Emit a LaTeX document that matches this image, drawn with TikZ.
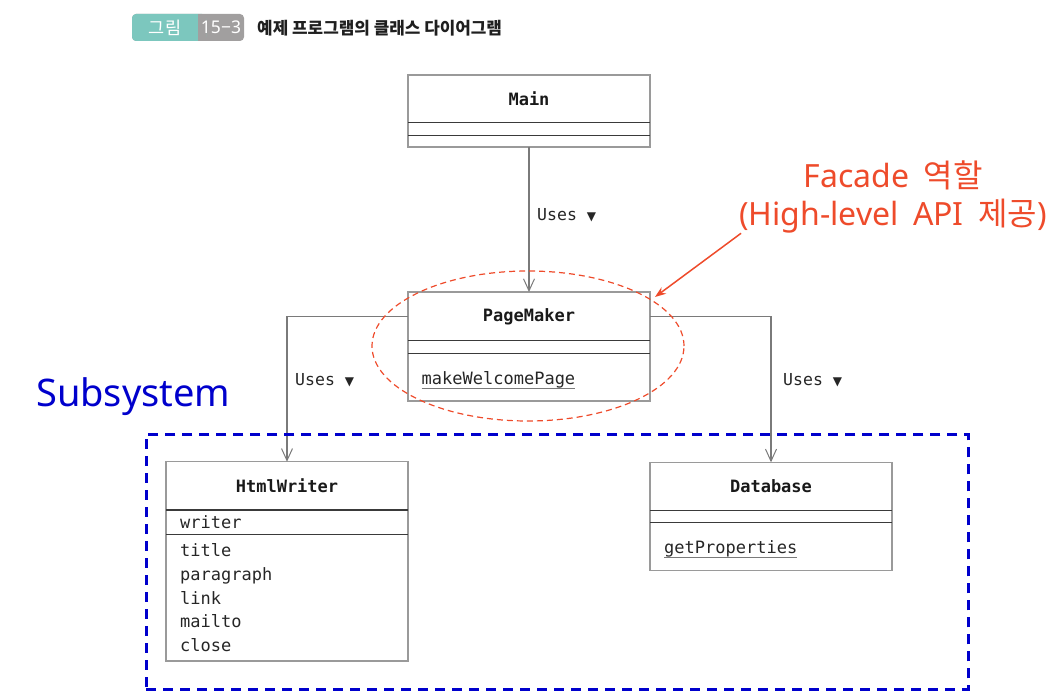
\documentclass[tikz,border=0pt]{standalone}
\usepackage{fontspec}
\setmonofont{DejaVu Sans Mono}
\newfontfamily\kr{Noto Sans CJK KR}
\newfontfamily\nsans{Noto Sans}
\newfontfamily\djs{DejaVu Sans}
\usetikzlibrary{arrows.meta,shapes.geometric}
\definecolor{tealbadge}{HTML}{7CC7BE}
\definecolor{graybadge}{HTML}{A19F9F}
\definecolor{facadecol}{HTML}{EE4B2B}
\definecolor{subblue}{HTML}{0000CC}
\definecolor{boxgray}{HTML}{9A9A9A}
\definecolor{divgray}{HTML}{3A3A3A}
\definecolor{linegray}{HTML}{7A7A7A}
\newcommand\facfont{\nsans\fontsize{32}{36}\selectfont}
\newcommand\wsp{\hspace*{0.45em}}
\begin{document}
\begin{tikzpicture}[x=1pt,y=-1pt,
  comp/.style={draw=boxgray, line width=1.1pt, inner sep=0pt, outer sep=0pt, minimum width=242pt, anchor=north west},
  clsname/.style={comp, font=\ttfamily\bfseries\fontsize{17}{20}\selectfont, text=black!90},
  divider/.style={draw=divgray, line width=1.1pt},
  member/.style={anchor=base west, inner sep=0pt, font=\ttfamily\fontsize{17}{20}\selectfont, text=black!85},
  uline/.style={draw=linegray, line width=1pt},
  uses/.style={draw=linegray, line width=1.1pt, -{Straight Barb[length=12pt,width=11pt,line width=1pt]}},
  useslbl/.style={anchor=base west, inner sep=0pt, font=\ttfamily\fontsize{16.5}{20}\selectfont, text=black!85},
  facadetxt/.style={text=facadecol, inner sep=0pt, font=\facfont}
]
\useasboundingbox (0,0) rectangle (1056,692);

% title badge
\fill[graybadge, rounded corners=4pt] (132,14) rectangle (244,41);
\fill[tealbadge, rounded corners=4pt] (132,14) rectangle (206,41);
\fill[graybadge] (198,14) rectangle (206,41);
\node[text=white, font=\kr\fontsize{17.5}{19}\selectfont] (badgea) at (165,27.5) {그림};
\node[text=white, font=\nsans\fontsize{17.5}{19}\selectfont] (badgeb) at (221,27.5) {15−3};
\node[anchor=west, inner sep=0pt, text=black!88, font=\kr\bfseries\fontsize{16.9}{19}\selectfont] (title) at (257,28) {예제 프로그램의 클래스 다이어그램};

% Main
\node[clsname, minimum height=47.7pt] (mainname) at (408,75) {Main};
\node[comp, minimum height=12.6pt] (mainattr) at (408,122.7) {};
\node[comp, minimum height=11.7pt] (mainops) at (408,135.3) {};
\draw[divider] (mainname.south west) -- (mainname.south east);
\draw[divider] (mainattr.south west) -- (mainattr.south east);

% PageMaker
\node[clsname, minimum height=48.7pt] (pmname) at (408,292) {PageMaker};
\node[comp, minimum height=12.6pt] (pmattr) at (408,340.7) {};
\node[comp, minimum height=47.7pt] (pmops) at (408,353.3) {};
\draw[divider] (pmname.south west) -- (pmname.south east);
\draw[divider] (pmattr.south west) -- (pmattr.south east);
\node[member] (pmop1) at (421.5,384) {makeWelcomePage};
\draw[uline] ([yshift=-4.5pt]pmop1.base west) -- ([yshift=-4.5pt]pmop1.base east);

% HtmlWriter
\node[clsname, minimum height=48.3pt] (hwname) at (166,461.7) {HtmlWriter};
\node[comp, minimum height=24.3pt] (hwattr) at (166,510) {};
\node[comp, minimum height=126.7pt] (hwops) at (166,534.3) {};
\draw[divider] (hwname.south west) -- (hwname.south east);
\draw[divider] (hwattr.south west) -- (hwattr.south east);
\node[member] (hwa1) at (180,528) {writer};
\node[member] (hwo1) at (180,556) {title};
\node[member] (hwo2) at (180,580) {paragraph};
\node[member] (hwo3) at (180,604) {link};
\node[member] (hwo4) at (180,627.5) {mailto};
\node[member] (hwo5) at (180,651) {close};

% Database
\node[clsname, minimum height=48.4pt] (dbname) at (650,462.3) {Database};
\node[comp, minimum height=11.6pt] (dbattr) at (650,510.7) {};
\node[comp, minimum height=48.4pt] (dbops) at (650,522.3) {};
\draw[divider] (dbname.south west) -- (dbname.south east);
\draw[divider] (dbattr.south west) -- (dbattr.south east);
\node[member] (dbop1) at (664,553) {getProperties};
\draw[uline] ([yshift=-4.5pt]dbop1.base west) -- ([yshift=-4.5pt]dbop1.base east);

% connectors
\draw[uses] (mainops.south) -- (pmname.north);
\draw[uses] (pmname.west) -| (hwname.north);
\draw[uses] (pmname.east) -| (dbname.north);
\node[useslbl] (usesa) at (537,221) {Uses {\djs\fontsize{12}{12}\selectfont ▼}};
\node[useslbl] (usesb) at (295,385) {Uses {\djs\fontsize{12}{12}\selectfont ▼}};
\node[useslbl] (usesc) at (783,385) {Uses {\djs\fontsize{12}{12}\selectfont ▼}};

% subsystem
\node[draw=subblue, line width=2.5pt, dash pattern=on 10pt off 7pt, minimum width=822pt, minimum height=255pt, inner sep=0pt, anchor=north west] (subsys) at (145,433) {};
\node[anchor=west, inner sep=0pt, text=subblue, font=\nsans\fontsize{38}{42}\selectfont] (subsyslbl) at (36,397) {Subsystem};

% facade
\node[ellipse, draw=facadecol, line width=1.2pt, dash pattern=on 6pt off 4pt, minimum width=312pt, minimum height=150pt, inner sep=0pt] (facadeell) at (528,346) {};
\node[facadetxt] (faca) at (893,175) {Facade\wsp{\kr 역할}};
\node[facadetxt] (facb) at (893,216) {(High-level\wsp API\wsp{\kr 제공})};
\coordinate (factip) at (655,297);
\draw[draw=facadecol, line width=1.5pt, -{Stealth[length=11pt,width=8pt]}] ([xshift=2pt]facb.south west) -- (factip);
\end{tikzpicture}
\end{document}
